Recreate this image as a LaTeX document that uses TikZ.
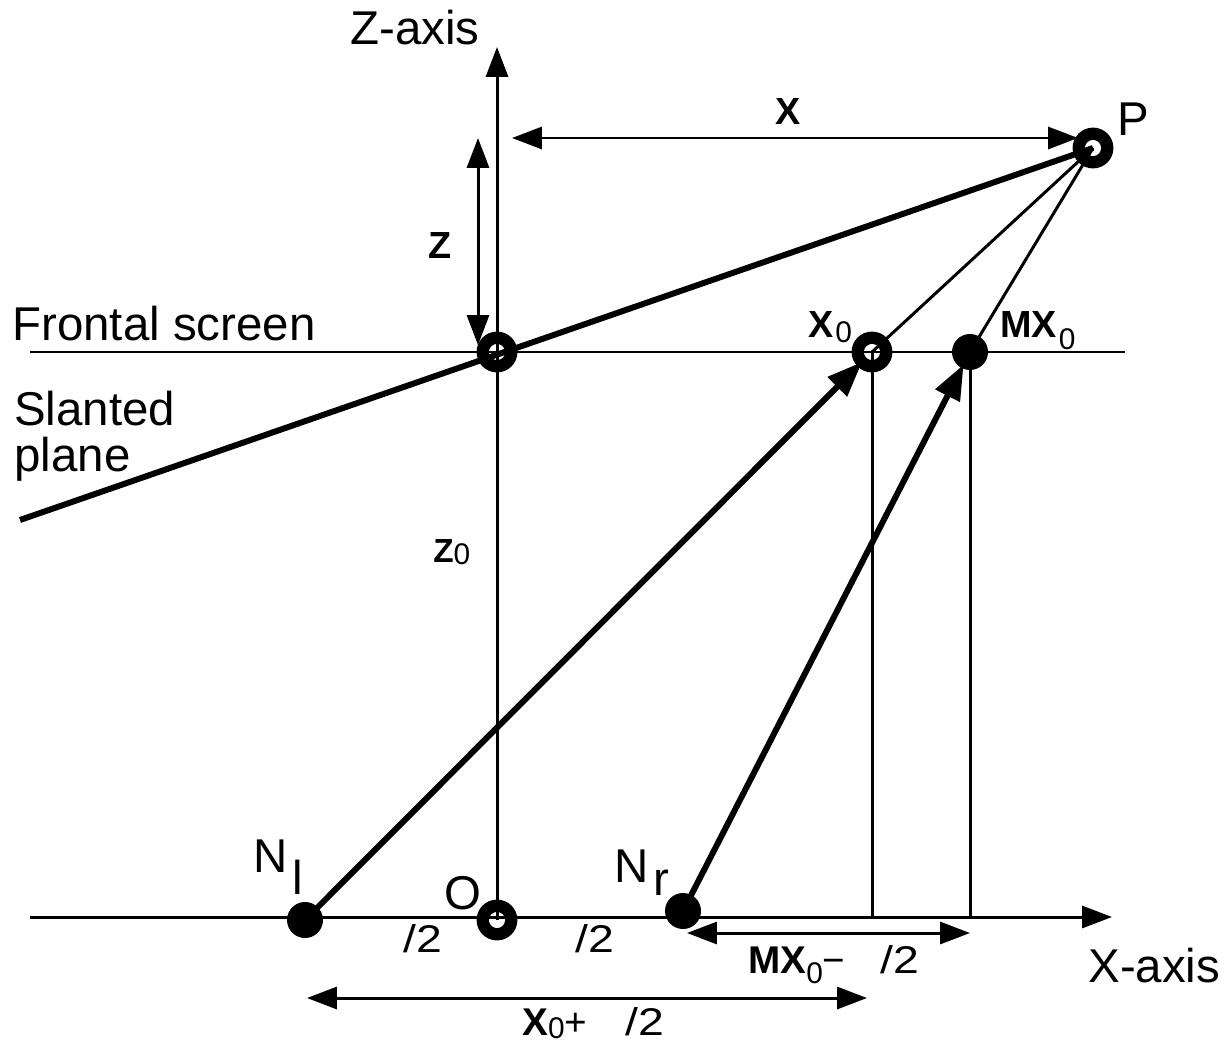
\documentclass[tikz,border=0pt]{standalone}
\usepackage{fontspec}
\setmainfont{Liberation Sans}
\usetikzlibrary{arrows.meta}
\newcommand{\zsub}[1][3pt]{\raisebox{-#1}{\mdseries\fontsize{17}{17}\selectfont 0}}
\newcommand{\halfd}{\scalebox{1.2}[1]{/2}}

\begin{document}
\begin{tikzpicture}[x=0.02cm, y=-0.02cm,
  fine/.style={line width=1.7pt},
  heavy/.style={line width=3.4pt},
  ring/.style={circle,draw,line width=7pt,inner sep=0pt,minimum size=0.57cm},
  dot/.style={circle,fill,inner sep=0pt,minimum size=0.72cm},
  tip/.style={-{Triangle[length=17pt,width=12.5pt]}},
  bigtip/.style={-{Triangle[length=20pt,width=15pt]}},
  dim/.style={fine,{Triangle[length=17pt,width=12.5pt]}-{Triangle[length=17pt,width=12.5pt]}},
  lbl/.style={font=\fontsize{27}{27}\selectfont,inner sep=0pt,anchor=base west},
  blbl/.style={font=\fontsize{21.5}{21.5}\selectfont\bfseries,inner sep=0pt,anchor=base west},
  sbl/.style={font=\fontsize{22}{22}\selectfont,inner sep=0pt,anchor=base west}]
\useasboundingbox (0,0) rectangle (1230,1051);
% points
\coordinate (O) at (497,920);
\coordinate (S) at (497,352);
\coordinate (P) at (1093,148);
\coordinate (Xo) at (872,352);
\coordinate (MXo) at (970,352);
\coordinate (Nl) at (305,920);
\coordinate (Nr) at (683,911);
\coordinate (slant) at (20,520);
\coordinate (xa0) at (30,917);
\coordinate (xa1) at (1112,917);
\coordinate (za) at (497,47);
\coordinate (fs0) at (30,352);
\coordinate (fs1) at (1125,352);
% axes and screen
\draw[fine,tip] (xa0) -- (xa1);
\draw[fine,tip] (O) -- (za);
\draw[fine] (fs0) -- (fs1);
\draw[heavy] (slant) -- (P);
\draw[fine] (P) -- (Xo);
\draw[fine] (P) -- (MXo);
\draw[fine] (Xo) -- (Xo |- xa0);
\draw[fine] (MXo) -- (MXo |- xa0);
\draw[heavy,bigtip,shorten >=8pt] (Nl) -- (Xo);
\draw[heavy,bigtip,shorten >=8pt] (Nr) -- (MXo);
% dimension arrows
\coordinate (xd0) at (512,138);
\coordinate (xd1) at (1078,138);
\coordinate (zd0) at (478,138);
\coordinate (zd1) at (478,345);
\coordinate (md0) at (687,933);
\coordinate (md1) at (970,933);
\coordinate (pd0) at (307,998);
\coordinate (pd1) at (867,998);
\draw[dim] (xd0) -- (xd1);
\draw[dim] (zd0) -- (zd1);
\draw[dim] (md0) -- (md1);
\draw[dim] (pd0) -- (pd1);
% markers
\foreach \p in {O,S,P,Xo}
  \node[ring] at (\p) {};
\foreach \p in {Nl,Nr,MXo}
  \node[dot] at (\p) {};
% labels
\node[lbl] (zlab) at (350,45) {Z-axis};
\node[lbl] (xlab) at (1088,982) {X-axis};
\node[lbl] (fslab) at (12,340) {Frontal screen};
\node[lbl] (sllab) at (14,425) {Slanted};
\node[lbl] (pllab) at (14,471) {plane};
\node[lbl] (plab) at (1117,135) {P};
\node[lbl] (olab) at (444,909) {O};
\node[lbl] (nllab) at (253,872) {N\hspace{3pt}\raisebox{-13pt}{l}};
\node[lbl] (nrlab) at (614,882) {N\hspace{3pt}\raisebox{-7.4pt}{r}};
\node[blbl] (xdlab) at (775,125) {X};
\node[blbl] (zdlab) at (428,258) {Z};
\node[blbl] (xolab) at (808,337) {X\hspace{1pt}\zsub};
\node[blbl] (mxolab) at (1000,337) {MX\hspace{1pt}\zsub[7pt]};
\node[sbl] (zolab) at (433,562) {\fontsize{19}{19}\selectfont\bfseries Z\zsub[1.5pt]};
\node[sbl] (h1lab) at (403,952) {\halfd};
\node[sbl] (h2lab) at (575,952) {\halfd};
\node[sbl] (mdlab) at (748,973) {\bfseries MX\zsub[6pt]\mdseries−\hspace{20pt}\halfd};
\node[sbl] (pdlab) at (522,1035) {\bfseries X\zsub[2pt]\mdseries+\hspace{22pt}\halfd};
\end{tikzpicture}
\end{document}
